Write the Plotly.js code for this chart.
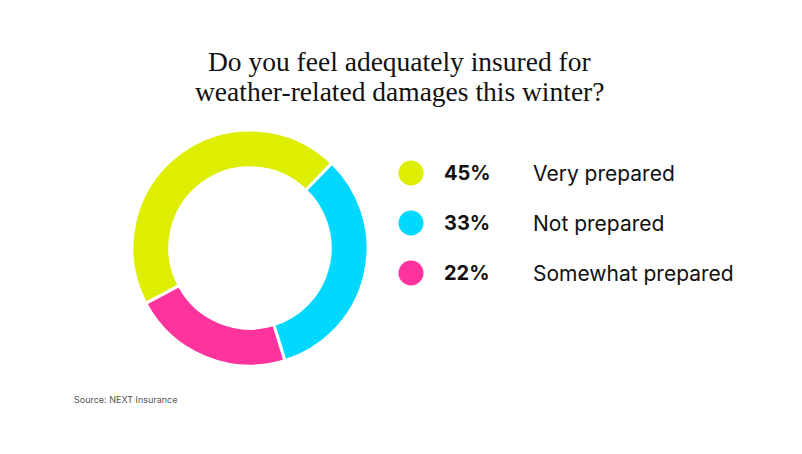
<!DOCTYPE html>
<html>
<head>
<meta charset="utf-8">
<script src="https://cdn.plot.ly/plotly-3.0.1.min.js"></script>
<style>html,body{margin:0;padding:0;background:#fff;}#chart{width:802px;height:454px;}</style>
</head>
<body>
<div id="chart"></div>
<script>
const titleLines = ["Do you feel adequately insured for", "weather-related damages this winter?"];
const categories = ["Very prepared", "Not prepared", "Somewhat prepared"];
const shares = [45, 33, 22];
const percentLabels = ["45%", "33%", "22%"];
const colors = ["#DEEE00", "#00D8FF", "#FF339E"];
const sourceText = "Source: NEXT Insurance";

const pie = {
  type: "pie",
  labels: categories,
  values: shares,
  sort: false,
  direction: "clockwise",
  rotation: 242,
  hole: 0.68,
  marker: {colors: colors, line: {color: "#ffffff", width: 3}},
  textinfo: "none",
  hoverinfo: "label+percent",
  showlegend: false,
  domain: {x: [(250 - 118) / 802, (250 + 118) / 802], y: [(206 - 118) / 454, (206 + 118) / 454]}
};

const legendY = categories.map((c, i) => 173 + 50 * i);
const legendMarkers = {
  type: "scatter",
  mode: "markers",
  x: categories.map(() => 411),
  y: legendY,
  marker: {size: 25, color: colors, line: {width: 0}},
  hoverinfo: "skip",
  showlegend: false
};

const sans = "Inter, 'Liberation Sans', sans-serif";
const annotations = [];
titleLines.forEach((t, i) => {
  annotations.push({
    xref: "x", yref: "y", x: 399, y: 61 + 30 * i, xanchor: "center", yanchor: "middle",
    text: t, showarrow: false,
    font: {family: "'Liberation Serif', 'DejaVu Serif', serif", size: 27.5, color: "#111111"}
  });
});
categories.forEach((c, i) => {
  annotations.push({
    xref: "x", yref: "y", x: 442, y: legendY[i], xanchor: "left", yanchor: "middle",
    text: "<b>" + percentLabels[i] + "</b>", showarrow: false,
    font: {family: sans, size: 20, color: "#111111"}
  });
  annotations.push({
    xref: "x", yref: "y", x: 531, y: legendY[i], xanchor: "left", yanchor: "middle",
    text: c, showarrow: false,
    font: {family: sans, size: 21, color: "#111111"}
  });
});
annotations.push({
  xref: "x", yref: "y", x: 72, y: 399, xanchor: "left", yanchor: "middle",
  text: sourceText, showarrow: false,
  font: {family: sans, size: 9, color: "#555555"}
});

const layout = {
  width: 802, height: 454,
  margin: {l: 0, r: 0, t: 0, b: 0},
  paper_bgcolor: "#ffffff", plot_bgcolor: "rgba(0,0,0,0)",
  xaxis: {range: [0, 802], domain: [0, 1], visible: false, fixedrange: true},
  yaxis: {range: [454, 0], domain: [0, 1], visible: false, fixedrange: true},
  annotations: annotations,
  showlegend: false
};

Plotly.newPlot("chart", [pie, legendMarkers], layout, {displayModeBar: false, staticPlot: true});
</script>
</body>
</html>
